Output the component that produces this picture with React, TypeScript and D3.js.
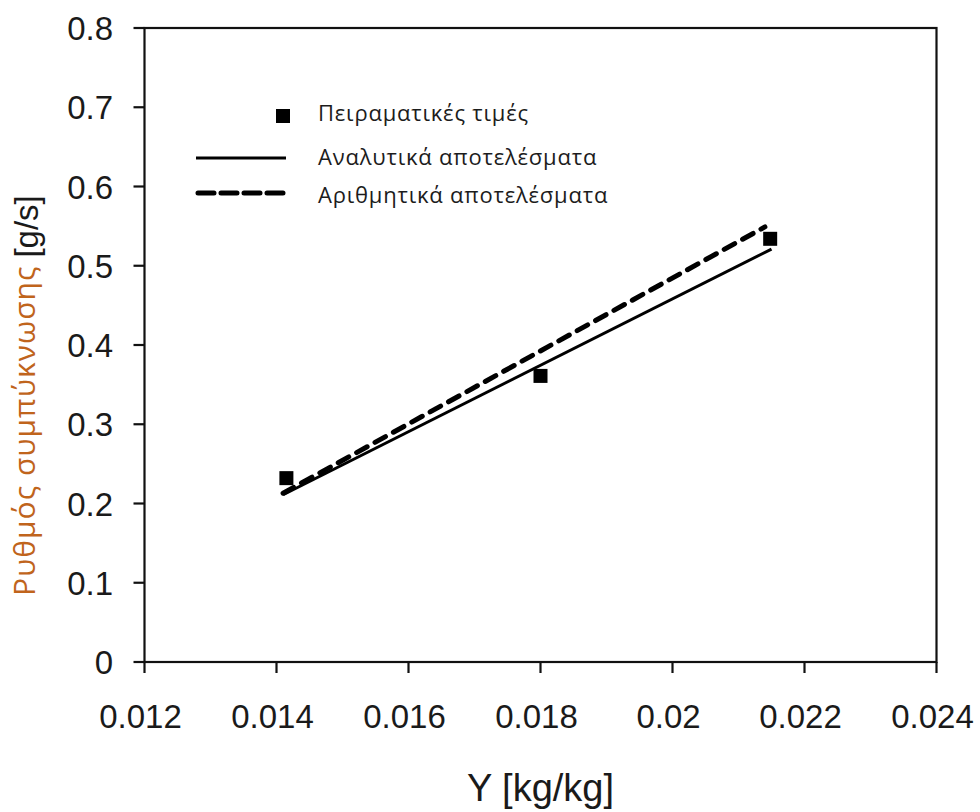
import React from "react";
import * as d3 from "d3";

// Experimental condensation-rate measurements
const expX = [0.01415, 0.018, 0.02148];
const expY = [0.232, 0.361, 0.534];

// Analytical model results (straight line)
const analyticX = [0.0141, 0.0215];
const analyticY = [0.211, 0.521];

// Numerical model results (straight line)
const numericX = [0.0141, 0.0214];
const numericY = [0.213, 0.549];

const xTickValues = [0.012, 0.014, 0.016, 0.018, 0.02, 0.022, 0.024];
const xTickLabels = ["0.012", "0.014", "0.016", "0.018", "0.02", "0.022", "0.024"];
const yTickValues = [0, 0.1, 0.2, 0.3, 0.4, 0.5, 0.6, 0.7, 0.8];
const yTickLabels = ["0", "0.1", "0.2", "0.3", "0.4", "0.5", "0.6", "0.7", "0.8"];

const legendLabels = ["Πειραματικές τιμές", "Αναλυτικά αποτελέσματα", "Αριθμητικά αποτελέσματα"];
const legendBaselines = [121, 165, 203];

const W = 980;
const H = 812;
const left = 144.5;
const right = 936.5;
const top = 28;
const bottom = 662;

const axisFont = "'Liberation Sans', Arial, sans-serif";
const greekFont = "'Open Sans', 'Noto Sans', sans-serif";

export default function App() {
  const x = d3.scaleLinear().domain([0.012, 0.024]).range([left, right]);
  const y = d3.scaleLinear().domain([0, 0.8]).range([bottom, top]);

  const line = d3
    .line<[number, number]>()
    .x((d) => x(d[0]))
    .y((d) => y(d[1]));

  const analytic = analyticX.map((v, i) => [v, analyticY[i]] as [number, number]);
  const numeric = numericX.map((v, i) => [v, numericY[i]] as [number, number]);

  const tickLen = 11;
  const sq = 14;

  return (
    <svg
      width={W}
      height={H}
      style={{ position: "absolute", left: 0, top: 0, background: "#fff" }}
    >
      {/* plot frame */}
      <rect
        x={left}
        y={top}
        width={right - left}
        height={bottom - top}
        fill="none"
        stroke="#111"
        strokeWidth={2.2}
      />

      {/* y axis ticks and labels */}
      {yTickValues.map((v, i) => (
        <g key={"y" + i}>
          <line
            x1={left - tickLen}
            x2={left}
            y1={y(v)}
            y2={y(v)}
            stroke="#111"
            strokeWidth={2.2}
          />
          <text
            x={113}
            y={y(v) + 12}
            textAnchor="end"
            fontFamily={axisFont}
            fontSize={33}
            fill="#1a1a1a"
          >
            {yTickLabels[i]}
          </text>
        </g>
      ))}

      {/* x axis ticks and labels */}
      {xTickValues.map((v, i) => (
        <g key={"x" + i}>
          <line
            x1={x(v)}
            x2={x(v)}
            y1={bottom}
            y2={bottom + tickLen}
            stroke="#111"
            strokeWidth={2.2}
          />
          <text
            x={x(v) - 4}
            y={728}
            textAnchor="middle"
            fontFamily={axisFont}
            fontSize={33}
            fill="#1a1a1a"
          >
            {xTickLabels[i]}
          </text>
        </g>
      ))}

      {/* axis titles */}
      <text
        x={(left + right) / 2}
        y={801}
        textAnchor="middle"
        fontFamily={axisFont}
        fontSize={38}
        fill="#1a1a1a"
      >
        Y [kg/kg]
      </text>
      <text transform="translate(35,596) rotate(-90)" textAnchor="start">
        <tspan
          fontFamily={greekFont}
          fontSize={30}
          letterSpacing={1}
          fill="#c0641c"
        >
          Ρυθμός συμπύκνωσης
        </tspan>
        <tspan fontFamily={axisFont} fontSize={33} fill="#1a1a1a" dx={8} dy={3}>
          [g/s]
        </tspan>
      </text>

      {/* model lines */}
      <path d={line(analytic) || ""} fill="none" stroke="#000" strokeWidth={3} />
      <path
        d={line(numeric) || ""}
        fill="none"
        stroke="#000"
        strokeWidth={5}
        strokeDasharray="12 9"
        strokeLinecap="round"
      />

      {/* experimental points */}
      {expX.map((v, i) => (
        <rect
          key={"p" + i}
          x={x(v) - sq / 2}
          y={y(expY[i]) - sq / 2}
          width={sq}
          height={sq}
          fill="#000"
        />
      ))}

      {/* legend */}
      <g>
        <rect x={276} y={109} width={sq} height={sq} fill="#000" />
        <line x1={196} x2={286} y1={158} y2={158} stroke="#000" strokeWidth={3} />
        <line
          x1={198}
          x2={286}
          y1={193}
          y2={193}
          stroke="#000"
          strokeWidth={5}
          strokeDasharray="16 7"
          strokeLinecap="round"
        />
        {legendLabels.map((t, i) => (
          <text
            key={"l" + i}
            x={318}
            y={legendBaselines[i]}
            fontFamily={greekFont}
            fontSize={22}
            letterSpacing={0.8}
            fill="#1c1c1c"
          >
            {t}
          </text>
        ))}
      </g>
    </svg>
  );
}
